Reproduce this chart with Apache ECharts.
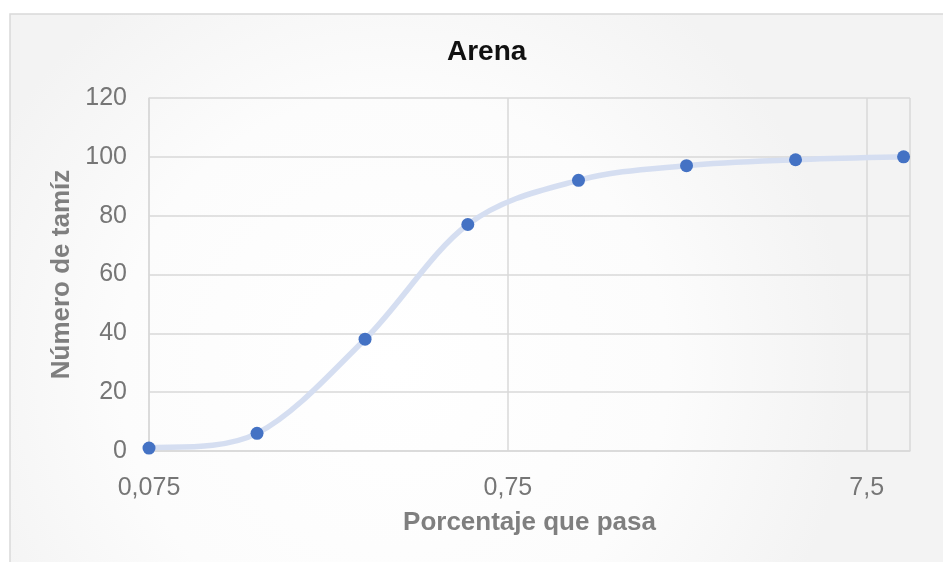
<!DOCTYPE html>
<html>
<head>
<meta charset="utf-8">
<script src="https://cdn.jsdelivr.net/npm/echarts@6/dist/echarts.min.js"></script>
<style>
  html, body { margin: 0; padding: 0; background: #ffffff; }
  #chart { width: 943px; height: 562px; }
</style>
</head>
<body>
<div id="chart"></div>
<script>
// Sieve openings (mm) and cumulative values
const sieveSizes = [0.075, 0.15, 0.3, 0.58, 1.18, 2.36, 4.75, 9.5];
const sieveValues = [1, 6, 38, 77, 92, 97, 99, 100];

// Logarithmic x-axis: first tick, decade ticks, right edge
const xBase = 0.075;
const xTickLabels = ['0,075', '0,75', '7,5'];
const xEnd = 9.9;

// Y axis range
const yMin = 0, yMax = 120, yStep = 20;

// decades above the first tick, used as the axis coordinate
const toDecades = v => Math.log10(v / xBase);

const points = sieveSizes.map((s, i) => [toDecades(s), sieveValues[i]]);

const chart = echarts.init(document.getElementById('chart'), null, { renderer: 'canvas' });

const font = 'Liberation Sans, Arial, sans-serif';
const gridColor = '#d9d9d9';

// Smooth curve through the points (Catmull-Rom style cubic Bezier in pixel space)
function renderCurve(params, api) {
  if (params.dataIndex !== 0) return null;
  const pts = points.map(p => api.coord(p));
  let d = 'M' + pts[0][0] + ' ' + pts[0][1];
  for (let i = 0; i < pts.length - 1; i++) {
    const p0 = pts[Math.max(i - 1, 0)];
    const p1 = pts[i];
    const p2 = pts[i + 1];
    const p3 = pts[Math.min(i + 2, pts.length - 1)];
    const c1x = p1[0] + (p2[0] - p0[0]) / 6;
    const c1y = p1[1] + (p2[1] - p0[1]) / 6;
    const c2x = p2[0] - (p3[0] - p1[0]) / 6;
    const c2y = p2[1] - (p3[1] - p1[1]) / 6;
    d += ' C' + c1x + ' ' + c1y + ' ' + c2x + ' ' + c2y + ' ' + p2[0] + ' ' + p2[1];
  }
  return {
    type: 'path',
    shape: { pathData: d },
    style: { fill: null, stroke: '#d5def1', lineWidth: 5.5, lineCap: 'round', lineJoin: 'round' }
  };
}

chart.setOption({
  animation: false,
  graphic: [{
    type: 'rect',
    z: -10,
    shape: { x: 10, y: 14, width: 960, height: 570 },
    style: {
      fill: new echarts.graphic.RadialGradient(0.4, 0.62, 0.8, [
        { offset: 0, color: '#ffffff' },
        { offset: 0.6, color: '#fcfcfc' },
        { offset: 1, color: '#f3f3f3' }
      ]),
      stroke: '#d9d9d9',
      lineWidth: 1.5
    }
  }],
  title: {
    text: 'Arena',
    left: 442,
    top: 33,
    textStyle: { fontFamily: font, fontSize: 28, fontWeight: 'bold', color: '#111111' }
  },
  grid: { left: 149, right: 33, top: 98, bottom: 111, containLabel: false },
  xAxis: {
    type: 'value',
    min: 0,
    max: toDecades(xEnd),
    interval: 1,
    name: 'Porcentaje que pasa',
    nameLocation: 'middle',
    nameGap: 59,
    nameTextStyle: { fontFamily: font, fontSize: 26, fontWeight: 'bold', color: '#7f7f7f' },
    axisLine: { show: true, lineStyle: { color: gridColor, width: 1.5 } },
    axisTick: { show: false },
    axisLabel: {
      fontFamily: font, fontSize: 25, color: '#767676', margin: 25,
      showMaxLabel: false,
      formatter: v => xTickLabels[Math.round(v)] || ''
    },
    splitLine: { show: true, lineStyle: { color: gridColor, width: 1.5 } }
  },
  yAxis: {
    type: 'value',
    min: yMin,
    max: yMax,
    interval: yStep,
    name: 'Número de tamíz',
    nameLocation: 'middle',
    nameGap: 74,
    nameRotate: 90,
    nameTextStyle: { fontFamily: font, fontSize: 26, fontWeight: 'bold', color: '#7f7f7f' },
    axisLine: { show: true, lineStyle: { color: gridColor, width: 1.5 } },
    axisTick: { show: false },
    axisLabel: { fontFamily: font, fontSize: 25, color: '#767676', margin: 22 },
    splitLine: { show: true, lineStyle: { color: gridColor, width: 1.5 } }
  },
  series: [{
    type: 'custom',
    data: points,
    renderItem: renderCurve,
    clip: false,
    silent: true,
    z: 1
  }, {
    type: 'scatter',
    data: points,
    symbol: 'circle',
    symbolSize: 13,
    itemStyle: { color: '#4472c4', opacity: 1 },
    clip: false,
    z: 2
  }]
});
</script>
</body>
</html>
